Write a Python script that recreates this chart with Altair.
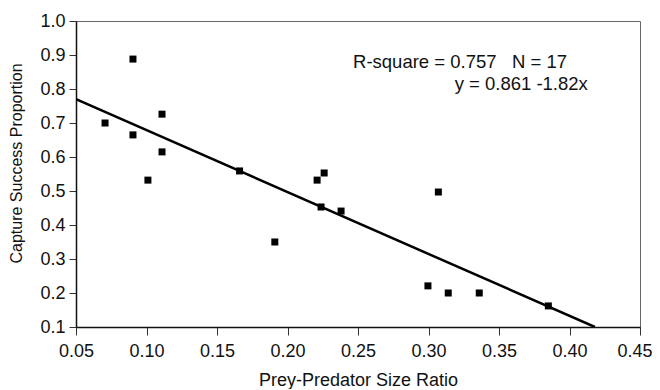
import altair as alt
import pandas as pd

ratio = [0.0706, 0.0904, 0.0904, 0.111, 0.111, 0.101, 0.166, 0.221, 0.226,
         0.191, 0.2238, 0.238, 0.307, 0.2996, 0.314, 0.336, 0.385]
success = [0.70, 0.888, 0.665, 0.726, 0.615, 0.532, 0.559, 0.532, 0.553,
           0.35, 0.453, 0.441, 0.497, 0.221, 0.20, 0.20, 0.162]

fit_x = [0.05, 0.418]
fit_y = [0.770, 0.100]

ann_text = ["R-square = 0.757\u00a0\u00a0\u00a0N = 17", "y = 0.861 -1.82x"]
ann_x = [0.2465, 0.413]
ann_y = [0.879, 0.815]
ann_align = ["left", "right"]

x_ticks = [0.05, 0.10, 0.15, 0.20, 0.25, 0.30, 0.35, 0.40, 0.45]
y_ticks = [0.1, 0.2, 0.3, 0.4, 0.5, 0.6, 0.7, 0.8, 0.9, 1.0]

FONT = "Liberation Sans"

pts = pd.DataFrame({"x": ratio, "y": success})
fit = pd.DataFrame({"x": fit_x, "y": fit_y})
ann = pd.DataFrame({"t": ann_text, "x": ann_x, "y": ann_y, "a": ann_align})

xscale = alt.Scale(domain=[0.05, 0.45], nice=False, zero=False)
yscale = alt.Scale(domain=[0.1, 1.0], nice=False, zero=False)

last_x = "datum.value >= 0.449"

xaxis = alt.Axis(values=x_ticks, format=".2f", title="Prey-Predator Size Ratio",
                 grid=False, tickSize=8, tickColor="#333", labelPadding=7,
                 labelFlush=False, labelOverlap=False,
                 labelAlign={"condition": {"test": last_x, "value": "right"}, "value": "center"},
                 labelOffset={"condition": {"test": last_x, "value": 12}, "value": 0},
                 domainColor="#111", domainWidth=1.5,
                 labelFont=FONT, labelFontSize=18, labelColor="#111",
                 titleFont=FONT, titleFontSize=18, titleFontWeight="normal",
                 titleColor="#111", titleY=44, titleBaseline="top")
yaxis = alt.Axis(values=y_ticks, format=".1f", title="Capture Success Proportion",
                 grid=False, tickSize=7, tickColor="#333", labelPadding=4,
                 labelFlush=False, labelOverlap=False,
                 domainColor="#111", domainWidth=1.5,
                 labelFont=FONT, labelFontSize=18, labelColor="#111",
                 titleFont=FONT, titleFontSize=16, titleFontWeight="normal",
                 titleColor="#111", titleX=-52, titleY=142, titleBaseline="bottom")

X = alt.X("x:Q", scale=xscale, axis=xaxis)
Y = alt.Y("y:Q", scale=yscale, axis=yaxis)

points = alt.Chart(pts).mark_square(size=49, color="black", opacity=1).encode(x=X, y=Y)

line = alt.Chart(fit).mark_line(color="black", strokeWidth=2.5, clip=True).encode(x=X, y=Y)

text_l = alt.Chart(ann[ann.a == "left"]).mark_text(
    align="left", baseline="middle", font=FONT, fontSize=18.5, color="#111"
).encode(x=X, y=Y, text="t:N")

text_r = alt.Chart(ann[ann.a == "right"]).mark_text(
    align="right", baseline="middle", font=FONT, fontSize=18.5, color="#111"
).encode(x=X, y=Y, text="t:N")

chart = alt.layer(points, line, text_l, text_r).properties(
    width=564, height=306,
    autosize=alt.AutoSizeParams(type="none"),
    padding={"left": 68, "top": 13, "right": 12, "bottom": 62},
    background="white",
).configure_view(stroke="#666", strokeWidth=1)

chart.save("out.html", embed_options={"renderer": "svg", "actions": False})
